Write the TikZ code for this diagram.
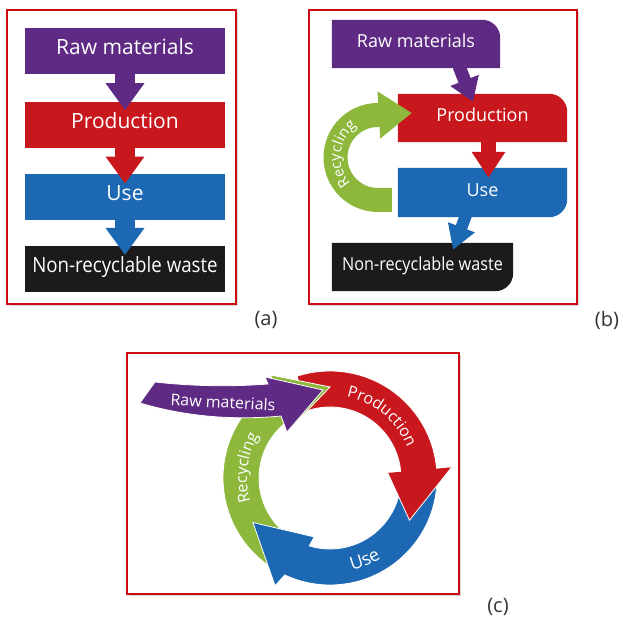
\documentclass[tikz,border=0pt]{standalone}
\usepackage{graphicx}
\usepackage{fontspec}
\setmainfont{Open Sans}
\usetikzlibrary{positioning,arrows.meta,shadows,decorations.text,calc}

\definecolor{rawPurple}{RGB}{94,42,132}
\definecolor{prodRed}{RGB}{200,24,30}
\definecolor{useBlue}{RGB}{28,104,178}
\definecolor{wasteBlack}{RGB}{28,26,26}
\definecolor{recGreen}{RGB}{141,184,60}
\definecolor{frameRed}{RGB}{204,10,20}

\pgfdeclarelayer{panel}
\pgfdeclarelayer{back}
\pgfsetlayers{panel,back,main}

\tikzset{
  panel/.style={draw=frameRed, line width=1.2pt, fill=white,
    drop shadow={shadow xshift=1.5pt, shadow yshift=-2pt, opacity=0.3}},
  boxA/.style={minimum width=200pt, minimum height=46pt, inner sep=0pt,
    text=white, text height=0.714em, text depth=0pt,
    font=\fontsize{21}{21}\selectfont},
  boxB/.style={minimum height=48pt, inner sep=0pt,
    text=white, text height=0.714em, text depth=0pt,
    font=\fontsize{18}{18}\selectfont},
  ring/.style={draw=white, line width=0.8pt},
  tag/.style={font=\fontsize{20}{20}\selectfont, text=black!80},
}

\begin{document}
\begin{tikzpicture}[x=1pt, y=1pt]
    \useasboundingbox (0,0) rectangle (623,618);

    % the three red frames with their shadows
    \begin{pgfonlayer}{panel}
        \draw[panel] (7,314) rectangle (236,608);
        \draw[panel] (309,314) rectangle (577,608);
        \draw[panel] (127,24) rectangle (459,265);
    \end{pgfonlayer}

    % Panel (a): the four boxes
    \node[boxA, fill=rawPurple] (rawA) at (125,567) {Raw materials};
    \node[boxA, fill=prodRed, below=28pt of rawA] (prodA) {Production};
    \node[boxA, fill=useBlue, below=25pt of prodA] (useA) {Use};
    \node[boxA, fill=wasteBlack, below=26pt of useA] (wasteA)
        {\scalebox{0.89}[1]{Non-recyclable waste}};

    % the arrows between the boxes of panel (a)
    \draw[rawPurple, line width=20pt, -{Triangle[width=37pt,length=27pt]}]
        ([yshift=1pt]rawA.south) -- ([yshift=-8pt]prodA.north);
    \draw[prodRed, line width=20pt, -{Triangle[width=37pt,length=27pt]}]
        ([yshift=1pt]prodA.south) -- ([yshift=-10pt]useA.north);
    \draw[useBlue, line width=20pt, -{Triangle[width=37pt,length=27pt]}]
        ([yshift=1pt]useA.south) -- ([yshift=-9pt]wasteA.north);

    % Panel (b): the boxes, one corner rounded
    \node[boxB, minimum width=168pt] (rawB) at (416,574) {Raw materials};
    \node[boxB, minimum width=169pt] (prodB) at (482.5,500) {Production};
    \node[boxB, minimum width=169pt, minimum height=49pt] (useB) at (482.5,425.5) {Use};
    \node[boxB, minimum width=181pt] (wasteB) at (422.5,351)
        {\scalebox{0.9}[1]{Non-recyclable waste}};

    \begin{pgfonlayer}{back}
        \fill[rawPurple] (rawB.south west) -- (rawB.north west)
            -- ([xshift=-18pt]rawB.north east) arc[start angle=90, end angle=0, radius=18]
            -- (rawB.south east) -- cycle;
        \fill[prodRed] (prodB.south west) -- (prodB.north west)
            -- ([xshift=-18pt]prodB.north east) arc[start angle=90, end angle=0, radius=18]
            -- (prodB.south east) -- cycle;
        \fill[useBlue] (useB.north west) -- (useB.north east)
            -- ([yshift=18pt]useB.south east) arc[start angle=0, end angle=-90, radius=18]
            -- (useB.south west) -- cycle;
        \fill[wasteBlack] (wasteB.north west) -- (wasteB.north east)
            -- ([yshift=18pt]wasteB.south east) arc[start angle=0, end angle=-90, radius=18]
            -- (wasteB.south west) -- cycle;
    \end{pgfonlayer}

    % the arrows of panel (b)
    \draw[rawPurple, line width=13pt, -{Triangle[width=29pt,length=23pt]}]
        ([shift={(43,2)}]rawB.south) -- ([shift={(-9.5,-8)}]prodB.north);
    \draw[prodRed, line width=15pt, -{Triangle[width=32pt,length=26pt]}]
        ([shift={(6,2)}]prodB.south) -- ([shift={(6,-10)}]useB.north);
    \draw[useBlue, line width=12pt, -{Triangle[width=27pt,length=24pt]}]
        ([shift={(-16.5,2)}]useB.south) -- ([shift={(30.5,-7)}]wasteB.north);

    % the recycling loop of panel (b)
    \coordinate (loopB) at (378,460.5);
    \draw[recGreen, line width=24pt, -{Triangle[width=45pt,length=33pt]}]
        ([shift={(-6,-7.5)}]useB.west) -- ([yshift=-42.5pt]loopB)
        arc[start angle=270, end angle=90, radius=42.5]
        -- ([shift={(14,5)}]prodB.west);
    \path[decorate, decoration={text along path, text align=center, text color=white,
        text={|\fontsize{15}{15}\selectfont|Recycling}}]
        ([shift={(226:37.5)}]loopB) arc[start angle=226, end angle=122, radius=37.5];

    % Panel (c): the cycle
    \coordinate (ringC) at (330,140);
    \begin{scope}[shift={(ringC)}]
        % production
        \fill[prodRed, ring] (108:107) arc[start angle=108, end angle=5, radius=107]
            -- (5:122) -- (-28:90) -- (5:58) -- (5:71)
            arc[start angle=5, end angle=108, radius=71] -- cycle;
        % recycling
        \fill[recGreen, ring] (236:107) arc[start angle=236, end angle=121, radius=107]
            -- (120:119) -- (90:91) -- (126:64) -- (125:71)
            arc[start angle=125, end angle=236, radius=71] -- cycle;
        % use
        \fill[useBlue, ring] (2:107) arc[start angle=2, end angle=-115, radius=107]
            -- (-117:121) -- (-150:89) -- (-105:61) -- (-107:71)
            arc[start angle=-107, end angle=2, radius=71] -- cycle;
        % the head of production again, over the start of use
        \fill[prodRed] (5:122) -- (-28:90) -- (5:58) -- cycle;
        \draw[white, line width=0.8pt] (5:122) -- (-28:90) -- (5:58);

        % the texts along the ring
        \path[decorate, decoration={text along path, text align=center, text color=white,
            text={|\fontsize{16}{16}\selectfont|Production}}]
            (100:83) arc[start angle=100, end angle=0, radius=83];
        \path[decorate, decoration={text along path, text align=center, text color=white,
            text={|\fontsize{18}{18}\selectfont|Use}}]
            (-107:95) arc[start angle=-107, end angle=-27, radius=95];
        \path[decorate, decoration={text along path, text align=center, text color=white,
            text={|\fontsize{16}{16}\selectfont|Recycling}}]
            (215:83) arc[start angle=215, end angle=131, radius=83];
    \end{scope}

    % raw materials coming in
    \fill[rawPurple, ring] (155,236) .. controls (190,232) and (230,231) .. (268,234)
        -- (265,241) -- (323,228) -- (287,186) -- (281,202)
        .. controls (240,198) and (190,200) .. (140,215) -- cycle;
    \node[rotate=-3, text=white, font=\fontsize{16}{16}\selectfont] (rawC) at (223,216) {Raw materials};

    % the labels of the panels
    \node[tag] (tagA) at (266,298) {(a)};
    \node[tag] (tagB) at (607,298) {(b)};
    \node[tag] (tagC) at (498,11) {(c)};
\end{tikzpicture}
\end{document}
